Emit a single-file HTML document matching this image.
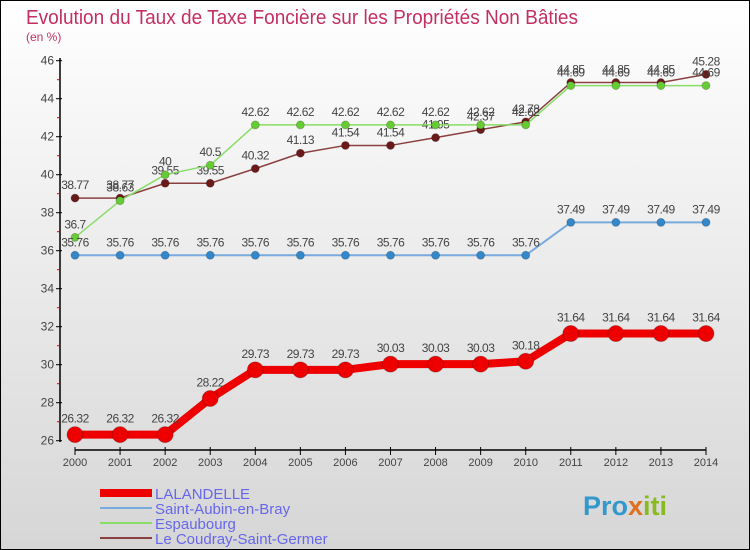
<!DOCTYPE html>
<html><head><meta charset="utf-8"><style>
body{margin:0}
#c{width:750px;height:550px;position:relative;box-sizing:border-box;border:1px solid #000;background:linear-gradient(#fff,#d6d6d6);overflow:hidden;font-family:"Liberation Sans","DejaVu Sans",sans-serif}
</style></head><body>
<div id="c">
<svg width="750" height="550" id="svg" style="position:absolute;left:-1px;top:-1px;font-family:'Liberation Sans','DejaVu Sans',sans-serif">
<text x="26" y="24" font-size="20" fill="#c33060" textLength="552" lengthAdjust="spacingAndGlyphs">Evolution du Taux de Taxe Foncière sur les Propriétés Non Bâties</text>
<text x="26" y="41" font-size="12" fill="#c33060">(en %)</text>
<g id="axes"></g><g id="series"></g><g id="legend"></g>
<text x="583" y="515" font-size="27" font-weight="bold" fill="#3399cc">Pro<tspan fill="#e07020">x</tspan><tspan fill="#88bb22">iti</tspan></text>
</svg>
</div>
<script>
const years=[2000,2001,2002,2003,2004,2005,2006,2007,2008,2009,2010,2011,2012,2013,2014];
const lalandelle=[26.32,26.32,26.32,28.22,29.73,29.73,29.73,30.03,30.03,30.03,30.18,31.64,31.64,31.64,31.64];
const saintAubin=[35.76,35.76,35.76,35.76,35.76,35.76,35.76,35.76,35.76,35.76,35.76,37.49,37.49,37.49,37.49];
const espaubourg=[36.7,38.63,40,40.5,42.62,42.62,42.62,42.62,42.62,42.62,42.62,44.69,44.69,44.69,44.69];
const coudray=[38.77,38.77,39.55,39.55,40.32,41.13,41.54,41.54,41.95,42.37,42.78,44.85,44.85,44.85,45.28];
const yTicks=[26,28,30,32,34,36,38,40,42,44,46];
const ns="http://www.w3.org/2000/svg";
const X=i=>75+i*(706-75)/(years.length-1);
const Y=v=>440.7-(v-26)*19;
function mk(tag,attrs,parent){const e=document.createElementNS(ns,tag);for(const k in attrs)e.setAttribute(k,attrs[k]);parent.appendChild(e);return e;}
const axes=document.getElementById('axes');
let a=mk('line',{x1:60,y1:58,x2:60,y2:442,stroke:'#000','stroke-width':1.5},axes);


a=mk('line',{x1:75,y1:450,x2:706,y2:450,stroke:'#000','stroke-width':1.5},axes);


yTicks.forEach(v=>{
 mk('line',{x1:56,x2:62,y1:Y(v),y2:Y(v),stroke:'#000'},axes);
 if(v<46) mk('line',{x1:57,x2:60,y1:Y(v+1),y2:Y(v+1),stroke:'#d00'},axes);
 const t=mk('text',{x:54,y:Y(v)+4,'text-anchor':'end','font-size':12,fill:'#444'},axes);
 t.textContent=v;
 
 
});
years.forEach((yr,i)=>{
 mk('line',{x1:X(i),x2:X(i),y1:447,y2:455,stroke:'#000'},axes);
 const t=mk('text',{x:X(i),y:466,'text-anchor':'middle','font-size':11,fill:'#444'},axes);
 t.textContent=yr;
 
 
});
const sg=document.getElementById('series');
const series=[
 {name:'le-coudray',d:coudray,color:'#6b1a1a',line:'#8b4040',w:1.5,r:4},
 {name:'espaubourg',d:espaubourg,color:'#66cc33',line:'#88dd66',w:1.5,r:4},
 {name:'saint-aubin',d:saintAubin,color:'#3388cc',line:'#77aadd',w:2,r:4},
 {name:'lalandelle',d:lalandelle,color:'#ee0000',line:'#ee0000',w:8,r:8}
];
series.forEach(s=>{
 const g=mk('g',{},sg);
 
 
 const p=mk('polyline',{points:s.d.map((v,i)=>X(i)+','+Y(v)).join(' '),fill:'none',stroke:s.line,'stroke-width':s.w,'stroke-linejoin':'round'},g);
 
 
 s.d.forEach((v,i)=>{
  const c=mk('circle',{cx:X(i),cy:Y(v),r:s.r,fill:s.color,stroke:'rgba(0,0,0,0.2)'},g);
  
  
  const t=mk('text',{x:X(i),y:Y(v)-(s.r>5?12:9),'text-anchor':'middle','font-size':12,fill:'#444','letter-spacing':'-0.5'},g);
  t.textContent=String(v);
  
  
 });
});
const lg=document.getElementById('legend');
[['LALANDELLE','#ee0000',8],['Saint-Aubin-en-Bray','#77aadd',2],['Espaubourg','#88dd66',2],['Le Coudray-Saint-Germer','#8b4040',2]].forEach((e,i)=>{
 const y=493+i*15;
 const l=mk('line',{x1:100,x2:152,y1:y,y2:y,stroke:e[1],'stroke-width':e[2]},lg);
 
 
 const t=mk('text',{x:155,y:y+6,'font-size':15,fill:'#6666ee'},lg);
 t.textContent=e[0];
 
 
});
</script>
</body></html>
